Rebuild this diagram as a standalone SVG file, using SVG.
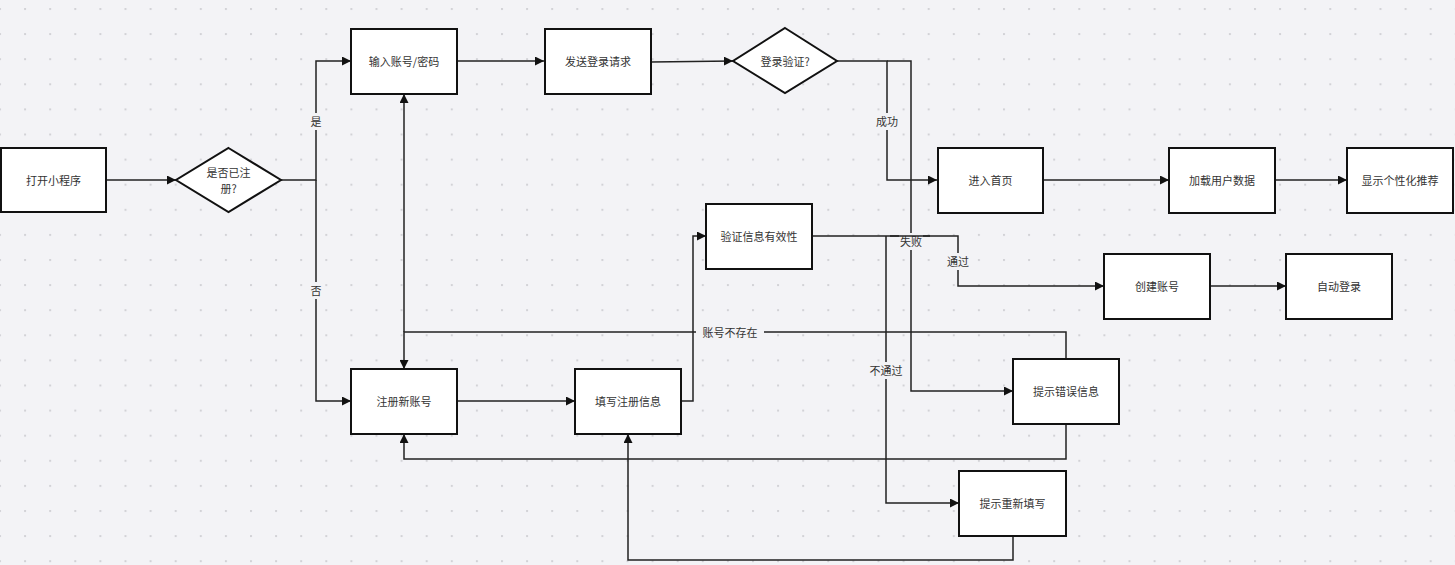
<svg xmlns="http://www.w3.org/2000/svg" width="1455" height="565" viewBox="0 0 1455 565">
<defs>
<pattern id="dots" x="-1" y="8" width="25.1" height="25.1" patternUnits="userSpaceOnUse">
<rect x="0" y="0" width="2" height="2" fill="#d2d2d6"/>
</pattern>
<marker id="arr" viewBox="0 0 10 10" refX="10" refY="5" markerWidth="9" markerHeight="9" markerUnits="userSpaceOnUse" orient="auto">
<path d="M0,0 L10,5 L0,10 z" fill="#111"/>
</marker>
<style>
.node rect, .node polygon { fill: #fff; stroke: #111; stroke-width: 2; }
.node text { font-family: "Noto Sans CJK SC", "Liberation Sans", sans-serif; font-size: 11px; fill: #333; text-anchor: middle; dominant-baseline: central; }
.edge { fill: none; stroke: #222; stroke-width: 1.5; }
.arrow { marker-end: url(#arr); }
.lbl rect { fill: #f3f3f6; }
.lbl text { font-family: "Noto Sans CJK SC", "Liberation Sans", sans-serif; font-size: 11px; fill: #333; text-anchor: middle; dominant-baseline: central; }
</style>
</defs>
<rect width="1455" height="565" fill="#f3f3f6"/>
<rect width="1455" height="565" fill="url(#dots)"/>

<g id="connectors">
<path class="edge arrow" d="M107,180 L176,180"/>
<path class="edge arrow" d="M281,180 L316,180 L316,61 L351,61"/>
<path class="edge arrow" d="M316,180 L316,401 L351,401"/>
<path class="edge arrow" d="M457,61 L544,61"/>
<path class="edge arrow" d="M651,62 L733,61"/>
<path class="edge arrow" d="M837,61 L887,61 L887,180 L937,180"/>
<path class="edge arrow" d="M887,61 L911,61 L911,391 L1013,391"/>
<path class="edge arrow" d="M1043,180 L1169,180"/>
<path class="edge arrow" d="M1275,180 L1347,180"/>
<path class="edge arrow" d="M1210,286 L1286,286"/>
<path class="edge arrow" d="M457,401 L575,401"/>
<path class="edge arrow" d="M681,401 L693,401 L693,236 L706,236"/>
<path class="edge arrow" d="M812,236 L958,236 L958,286 L1104,286"/>
<path class="edge arrow" d="M886,236 L886,503 L959,503"/>
<path class="edge arrow" d="M1066,359 L1066,332 L404,332 L404,369"/>
<path class="edge arrow" d="M404,332 L404,94"/>
<path class="edge arrow" d="M1066,424 L1066,459 L404,459 L404,434"/>
<path class="edge arrow" d="M1013,536 L1013,560 L628,560 L628,434"/>
<g class="lbl">
<rect x="309" y="113" width="14" height="17"/><text x="316" y="121">是</text>
<rect x="309" y="282" width="14" height="17"/><text x="316" y="290">否</text>
<rect x="875" y="113" width="24" height="17"/><text x="887" y="121">成功</text>
<rect x="899" y="233" width="24" height="17"/><text x="911" y="241">失败</text>
<rect x="946" y="253" width="24" height="17"/><text x="958" y="261">通过</text>
<rect x="868" y="362" width="36" height="17"/><text x="886" y="370">不通过</text>
<rect x="696" y="324" width="68" height="17"/><text x="730" y="332">账号不存在</text>
</g>
<path class="edge" d="M890,236 L930,236"/>
</g>

<g id="n-open" class="node"><rect x="1" y="148" width="105" height="64"/><text x="53.5" y="180">打开小程序</text></g>
<g id="n-registered" class="node"><polygon points="228.5,148 281,180 228.5,212 176,180"/><text x="228.5" y="172">是否已注</text><text x="228.5" y="188">册?</text></g>
<g id="n-input" class="node"><rect x="351" y="29" width="106" height="65"/><text x="404" y="61">输入账号/密码</text></g>
<g id="n-send" class="node"><rect x="545" y="29" width="106" height="65"/><text x="598" y="61">发送登录请求</text></g>
<g id="n-verify" class="node"><polygon points="785,28 837,61 785,93 733,61"/><text x="785" y="61">登录验证?</text></g>
<g id="n-home" class="node"><rect x="938" y="148" width="105" height="65"/><text x="990.5" y="180">进入首页</text></g>
<g id="n-load" class="node"><rect x="1169" y="148" width="106" height="65"/><text x="1222" y="180">加载用户数据</text></g>
<g id="n-recommend" class="node"><rect x="1347" y="148" width="106" height="65"/><text x="1400" y="180">显示个性化推荐</text></g>
<g id="n-validate" class="node"><rect x="706" y="204" width="106" height="65"/><text x="759" y="236">验证信息有效性</text></g>
<g id="n-create" class="node"><rect x="1104" y="254" width="106" height="65"/><text x="1157" y="286">创建账号</text></g>
<g id="n-autologin" class="node"><rect x="1286" y="254" width="106" height="65"/><text x="1339" y="286">自动登录</text></g>
<g id="n-register" class="node"><rect x="351" y="369" width="106" height="65"/><text x="404" y="401">注册新账号</text></g>
<g id="n-fill" class="node"><rect x="575" y="369" width="106" height="65"/><text x="628" y="401">填写注册信息</text></g>
<g id="n-error" class="node"><rect x="1013" y="359" width="106" height="65"/><text x="1066" y="391">提示错误信息</text></g>
<g id="n-refill" class="node"><rect x="959" y="471" width="107" height="65"/><text x="1012.5" y="503">提示重新填写</text></g>
</svg>
